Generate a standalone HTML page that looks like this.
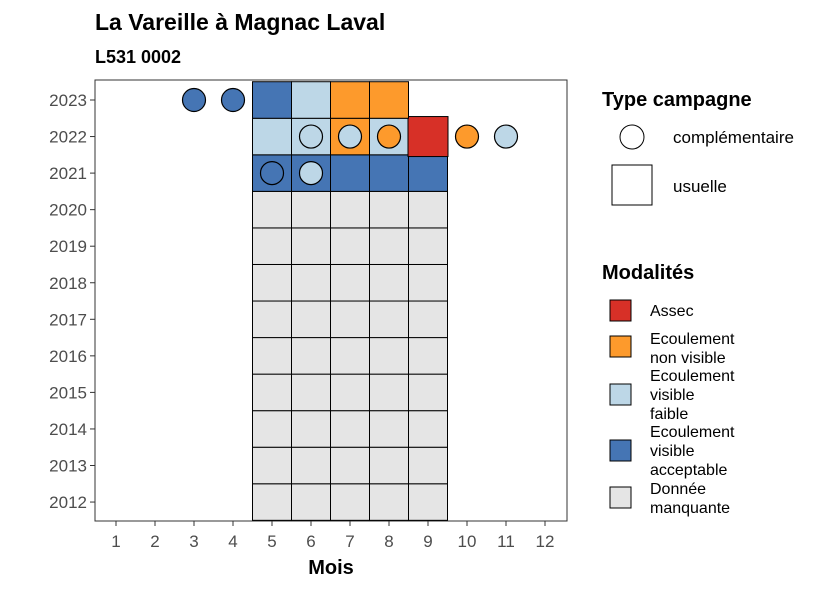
<!DOCTYPE html>
<html><head><meta charset="utf-8"><style>
body{margin:0;background:#fff;}
svg text{font-family:"Liberation Sans",sans-serif;}
</style></head><body>
<svg width="826" height="590" xmlns="http://www.w3.org/2000/svg">
<text x="95" y="30" font-size="23" font-weight="bold">La Vareille à Magnac Laval</text>
<text x="95" y="63" font-size="18" font-weight="bold">L531 0002</text>
<rect x="95" y="80" width="472" height="441" fill="#fff" stroke="#333" stroke-width="1"/>
<g id="tiles"></g>
<g id="circles"></g>
<g id="axes"></g>
<text x="331" y="574" font-size="20" font-weight="bold" text-anchor="middle">Mois</text>
<g>
<text x="602" y="106" font-size="20" font-weight="bold">Type campagne</text>
<circle cx="632" cy="137" r="12" fill="#fff" stroke="#000"/>
<text x="673" y="143" font-size="17">complémentaire</text>
<rect x="612" y="165" width="40" height="40" fill="#fff" stroke="#000"/>
<text x="673" y="192" font-size="17">usuelle</text>
</g>
<g>
<text x="602" y="279" font-size="20" font-weight="bold">Modalités</text>
<rect x="610" y="300" width="21" height="21" fill="#d73027" stroke="#000"/>
<text x="650" y="316" font-size="16">Assec</text>
<rect x="610" y="336" width="21" height="21" fill="#fd9a2c" stroke="#000"/>
<text x="650" y="344" font-size="16"><tspan x="650">Ecoulement</tspan><tspan x="650" dy="19">non visible</tspan></text>
<rect x="610" y="384" width="21" height="21" fill="#bdd7e7" stroke="#000"/>
<text x="650" y="381" font-size="16"><tspan x="650">Ecoulement</tspan><tspan x="650" dy="19">visible</tspan><tspan x="650" dy="19">faible</tspan></text>
<rect x="610" y="440" width="21" height="21" fill="#4575b4" stroke="#000"/>
<text x="650" y="437" font-size="16"><tspan x="650">Ecoulement</tspan><tspan x="650" dy="19">visible</tspan><tspan x="650" dy="19">acceptable</tspan></text>
<rect x="610" y="487" width="21" height="21" fill="#e5e5e5" stroke="#000"/>
<text x="650" y="494" font-size="16"><tspan x="650">Donnée</tspan><tspan x="650" dy="19">manquante</tspan></text>
</g>
</svg>
<script>
const colors={A:"#d73027",O:"#fd9a2c",L:"#bdd7e7",D:"#4575b4",G:"#e5e5e5"};
const months=[1,2,3,4,5,6,7,8,9,10,11,12];
const years=[2012,2013,2014,2015,2016,2017,2018,2019,2020,2021,2022,2023];
const tileMonths=[5,6,7,8,9];
const tileYears=[2012,2013,2014,2015,2016,2017,2018,2019,2020,2021,2021,2021,2021,2021,2022,2022,2022,2022,2022,2023,2023,2023,2023];
const tileMonthIdx=[5,5,5,5,5,5,5,5,5,5,6,7,8,9,5,6,7,8,9,5,6,7,8];
const tileMod=["G","G","G","G","G","G","G","G","G","D","D","D","D","D","L","L","O","L","A","D","L","O","O"];
const circYears=[2023,2023,2022,2022,2022,2022,2022,2021,2021];
const circMonths=[3,4,6,7,8,10,11,5,6];
const circMod=["D","D","L","L","O","O","L","D","L"];
const ns="http://www.w3.org/2000/svg";
const xs=m=>116+(m-1)*39;
const ys=y=>100+(2023-y)*36.55;
const W=39,H=36.55;
function mk(t,a,p){const e=document.createElementNS(ns,t);for(const k in a)e.setAttribute(k,a[k]);p.appendChild(e);return e;}
const tg=document.getElementById('tiles');
for(let y=2012;y<=2020;y++){for(const m of tileMonths){const r=mk('rect',{x:xs(m)-W/2,y:ys(y)-H/2,width:W,height:H,fill:colors.G,stroke:"#000","stroke-width":1},tg);

}}
for(let i=9;i<tileYears.length;i++){const y=tileYears[i],m=tileMonthIdx[i];
const big=tileMod[i]==="A";
const w=big?40:W,h=big?40:H;
const r=mk('rect',{x:xs(m)-w/2,y:ys(y)-h/2,width:w,height:h,fill:colors[tileMod[i]],stroke:"#000","stroke-width":1},tg);

}
const cg=document.getElementById('circles');
for(let i=0;i<circYears.length;i++){const c=mk('circle',{cx:xs(circMonths[i]),cy:ys(circYears[i]),r:11.5,fill:colors[circMod[i]],stroke:"#000","stroke-width":1.2},cg);

}
const ag=document.getElementById('axes');
for(const m of months){mk('line',{x1:xs(m),x2:xs(m),y1:521,y2:526,stroke:"#333"},ag);
const t=mk('text',{x:xs(m),y:547,"font-size":17,fill:"#4d4d4d","text-anchor":"middle"},ag);t.textContent=m;

}
for(const y of years){mk('line',{x1:90,x2:95,y1:ys(y),y2:ys(y),stroke:"#333"},ag);
const t=mk('text',{x:87,y:ys(y)+6,"font-size":17,fill:"#4d4d4d","text-anchor":"end"},ag);t.textContent=y;

}
</script>
</body></html>
